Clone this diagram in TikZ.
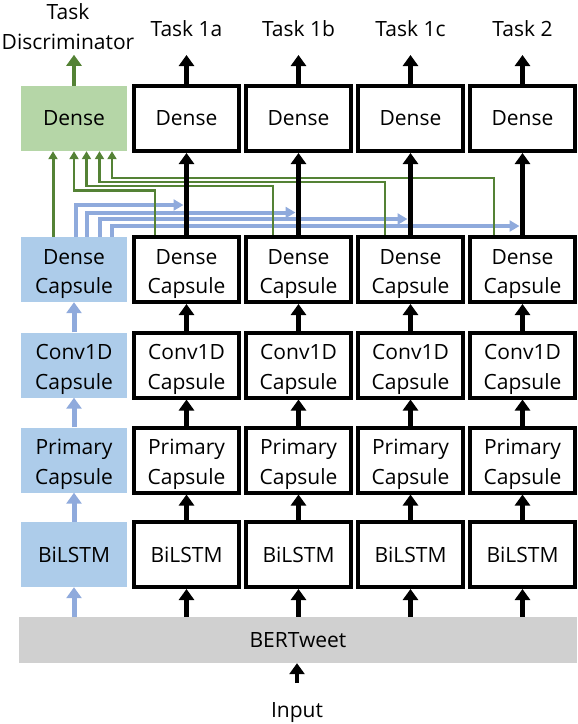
\documentclass[tikz,border=0pt]{standalone}
\usepackage{fontspec}
\setmainfont{Open Sans}
\usetikzlibrary{arrows.meta}
\definecolor{gfill}{RGB}{181,214,167}
\definecolor{bfill}{RGB}{173,204,234}
\definecolor{barrow}{RGB}{143,170,220}
\definecolor{gline}{RGB}{84,130,53}
\definecolor{grayfill}{RGB}{208,208,208}
\newcommand{\twolines}[2]{\smash{\raisebox{-8.8pt}{\begin{tabular}{@{}c@{}}#1\\#2\end{tabular}}}}
\begin{document}
\begin{tikzpicture}[x=1pt,y=-1pt,
  every node/.style={font=\fontsize{21}{29.5}\selectfont, text=black},
  blackbox/.style={draw=black, line width=4pt, line join=miter, minimum width=105pt, minimum height=65pt, inner sep=0pt, align=center, fill=white},
  bluebox/.style={fill=bfill, minimum width=106pt, minimum height=65pt, inner sep=0pt, align=center},
  greenbox/.style={fill=gfill, minimum width=106pt, minimum height=65pt, inner sep=0pt, align=center},
  lbl/.style={inner sep=0pt, align=center},
  blackarrow/.style={draw=black, line width=4.5pt, -{Triangle[length=11pt,width=15pt]}},
  bluearrow/.style={draw=barrow, line width=5pt, -{Triangle[length=11pt,width=15pt]}},
  greenarrow/.style={draw=gline, line width=4.5pt, -{Triangle[length=11pt,width=15pt]}},
  bluefeed/.style={draw=barrow, line width=4pt, line join=miter, -{Triangle[length=10pt,width=11pt]}},
  greenfeed/.style={draw=gline, line width=2.2pt, line join=miter, -{Triangle[length=8pt,width=9pt]}},
]
\useasboundingbox (0,0) rectangle (578,724);

% left (shared / discriminator) column
\node[greenbox] (dL) at (74,118.5) {Dense};
\node[bluebox] (dcL) at (74,269.5) {\twolines{Dense}{Capsule}};
\node[bluebox] (cvL) at (74,365) {\twolines{Conv1D}{Capsule}};
\node[bluebox] (prL) at (74,460) {\twolines{Primary}{Capsule}};
\node[bluebox] (biL) at (74,554.5) {BiLSTM};
\node[fill=grayfill, minimum width=558pt, minimum height=46pt, inner sep=0pt] (bert) at (298,640) {BERTweet};
\node[lbl] (input) at (297,713) {Input};
\node[lbl] (tdisc) at (68,26.5) {Task\\Discriminator};
\coordinate (inputtop) at (297,683);

% task columns
\foreach \i/\t in {1/Task 1a,2/Task 1b,3/Task 1c,4/Task 2}{
  \pgfmathsetmacro{\xc}{186.5+(\i-1)*112}
  \node[blackbox] (d\i) at (\xc,118.5) {Dense};
  \node[blackbox] (dc\i) at (\xc,269.5) {\twolines{Dense}{Capsule}};
  \node[blackbox] (cv\i) at (\xc,365) {\twolines{Conv1D}{Capsule}};
  \node[blackbox] (pr\i) at (\xc,460) {\twolines{Primary}{Capsule}};
  \node[blackbox] (bi\i) at (\xc,554.5) {BiLSTM};
  \node[lbl] (task\i) at (\xc,29) {\t};
}

% feed coordinates
\coordinate (bk1) at (183.5,205);
\coordinate (bk2) at (295.5,212.5);
\coordinate (bk3) at (407.5,219);
\coordinate (bk4) at (519.5,226);
\coordinate (gk1) at (74,190.5);
\coordinate (gk2) at (86.5,186);
\coordinate (gk3) at (99.5,182);
\coordinate (gk4) at (112,178);

% blue shared features to the task columns
\draw[bluefeed] ([xshift=1.5pt]dcL.north) |- (bk1);
\draw[bluefeed] ([xshift=13pt]dcL.north) |- (bk2);
\draw[bluefeed] ([xshift=26pt]dcL.north) |- (bk3);
\draw[bluefeed] ([xshift=38pt]dcL.north) |- (bk4);

% green task features to the discriminator
\draw[greenfeed, line width=3pt] ([xshift=-21pt]dcL.north) -- ([xshift=-21pt]dL.south);
\draw[greenfeed] ([xshift=-31.5pt]dc1.north) |- (gk1) -- (dL.south);
\draw[greenfeed] ([xshift=-25.5pt]dc2.north) |- (gk2) -- ([xshift=12.5pt]dL.south);
\draw[greenfeed] ([xshift=-25.5pt]dc3.north) |- (gk3) -- ([xshift=25.5pt]dL.south);
\draw[greenfeed] ([xshift=-28.5pt]dc4.north) |- (gk4) -- ([xshift=38pt]dL.south);

% left column arrows
\draw[bluearrow] (bert.north -| biL.south) -- (biL.south);
\draw[bluearrow] (biL.north) -- (prL.south);
\draw[bluearrow] (prL.north) -- (cvL.south);
\draw[bluearrow] (cvL.north) -- (dcL.south);
\draw[greenarrow] (dL.north) -- ([yshift=31pt]dL.north);

% task column arrows
\foreach \i in {1,2,3,4}{
  \draw[blackarrow] (bert.north -| bi\i.south) -- (bi\i.south);
  \draw[blackarrow] (bi\i.north) -- (pr\i.south);
  \draw[blackarrow] (pr\i.north) -- (cv\i.south);
  \draw[blackarrow] (cv\i.north) -- (dc\i.south);
  \draw[blackarrow] (dc\i.north) -- (d\i.south);
  \draw[blackarrow] (d\i.north) -- ([yshift=29pt]d\i.north);
}
\draw[blackarrow] (inputtop) -- (bert.south -| inputtop);
\end{tikzpicture}
\end{document}
